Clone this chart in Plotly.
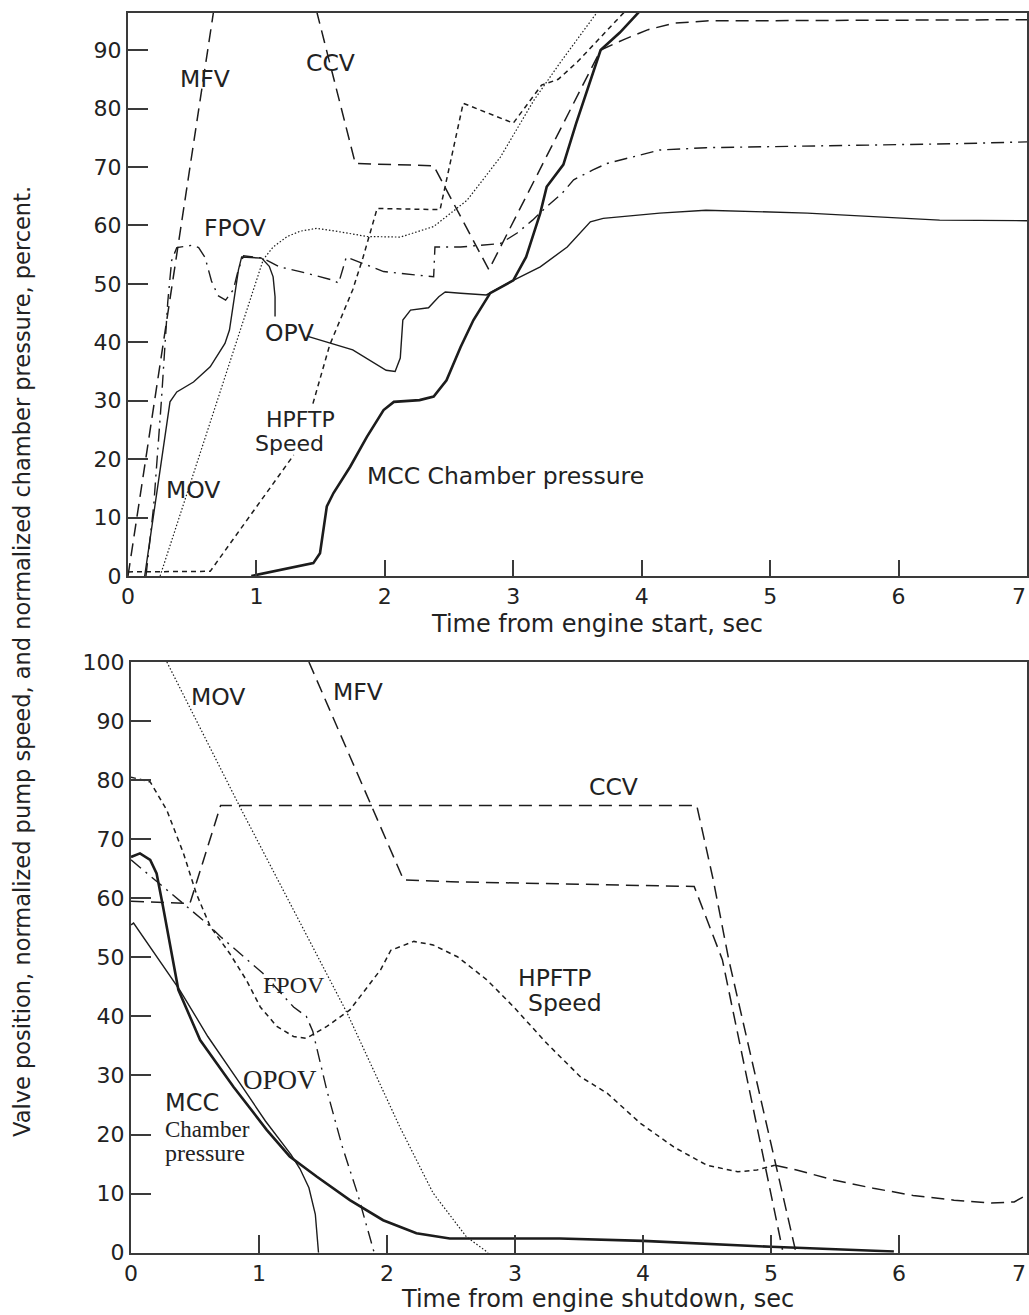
import plotly.graph_objects as go

# ---------------- Top panel: time from engine start ----------------
s_mfv_t = [0.0, 0.68]
s_mfv_v = [0.0, 98.6]

s_ccv_t = [1.43, 1.77, 2.38, 2.81, 3.68, 3.86, 4.05, 4.25, 4.5, 5.5, 7.0]
s_ccv_v = [100.0, 70.6, 70.2, 52.4, 90.0, 91.8, 93.5, 94.6, 95.0, 95.1, 95.2]

s_fpov_t = [0.14, 0.2, 0.26, 0.31, 0.34, 0.38, 0.5, 0.55, 0.6, 0.65, 0.7, 0.76,
            0.82, 0.86, 0.9, 1.05, 1.18, 1.34, 1.6, 1.64, 1.70, 1.99, 2.38, 2.39,
            2.59, 2.9, 3.03, 3.15, 3.26, 3.38, 3.47, 3.62, 3.73, 3.93, 4.14, 4.5,
            5.5, 6.5, 7.0]
s_fpov_v = [0.0, 12.0, 30.0, 47.0, 54.0, 56.2, 56.6, 56.2, 54.5, 50.5, 48.0, 47.2,
            49.0, 52.5, 54.8, 54.4, 52.9, 52.1, 50.6, 50.1, 54.6, 52.1, 51.2, 56.3,
            56.3, 56.9, 58.7, 60.9, 63.2, 65.5, 67.8, 69.5, 70.6, 71.7, 72.9, 73.3,
            73.6, 74.0, 74.3]

s_mov_t = [0.25, 1.054, 1.13, 1.24, 1.34, 1.47, 1.65, 1.86, 2.12, 2.38, 2.64,
           2.90, 3.16, 3.36, 3.65, 3.72]
s_mov_v = [0.0, 54.2, 56.3, 58.1, 59.0, 59.5, 58.9, 58.1, 58.0, 59.8, 64.3,
           71.7, 81.4, 87.7, 96.4, 99.0]

s_opov_t = [0.13, 0.327, 0.38, 0.51, 0.64, 0.755, 0.79, 0.83, 0.86, 0.885, 1.04,
            1.10, 1.13, 1.145, 1.145, None, 1.40, 1.75, 2.01, 2.08, 2.12, 2.14,
            2.2, 2.34, 2.42, 2.47, 2.59, 2.79, 3.0, 3.21, 3.42, 3.6, 3.7, 4.14,
            4.5, 5.29, 6.06, 6.32, 7.0]
s_opov_v = [0.0, 29.8, 31.5, 33.2, 35.8, 39.8, 42.1, 48.4, 52.4, 54.6, 54.4,
            53.0, 51.2, 47.8, 44.4, None, 41.0, 38.7, 35.2, 35.0, 37.3, 43.8,
            45.5, 45.9, 47.8, 48.6, 48.4, 48.1, 50.6, 52.9, 56.3, 60.6, 61.2, 62.1,
            62.6, 62.1, 61.2, 60.9, 60.8]

s_hpftp_t = [0.0, 0.64, 1.29, None, 1.44, 1.57, 1.75, 1.83, 1.94, 2.43, 2.61,
             3.0, 3.22, 3.35, 3.5, 3.86, 3.95]
s_hpftp_v = [0.7, 0.8, 20.7, None, 29.5, 39.5, 49.0, 54.5, 62.9, 62.7, 80.9,
             77.5, 84.0, 85.0, 88.0, 96.4, 98.5]

s_mcc_t = [0.96, 1.443, 1.495, 1.52, 1.548, 1.6, 1.73, 1.86, 1.99, 2.07, 2.27,
           2.38, 2.48, 2.59, 2.69, 2.82, 3.0, 3.1, 3.21, 3.26, 3.39, 3.49, 3.6,
           3.68, 3.83, 3.97, 4.02]
s_mcc_v = [0.0, 2.2, 3.9, 7.3, 11.9, 14.2, 18.7, 23.8, 28.4, 29.8, 30.1,
           30.7, 33.5, 39.2, 43.8, 48.4, 50.6, 54.6, 62.1, 66.6, 70.4, 77.5, 84.6,
           90.0, 93.0, 96.4, 97.5]

# ---------------- Bottom panel: time from engine shutdown ----------------
d_mov_t = [0.28, 0.85, 1.69, 2.10, 2.36, 2.62, 2.79]
d_mov_v = [100.0, 75.5, 40.5, 21.3, 10.1, 2.7, 0.0]

d_mfv_t = [1.39, 2.13, 2.5, 3.5, 4.40, 4.62, 5.09]
d_mfv_v = [100.0, 63.1, 62.8, 62.4, 62.0, 49.6, 0.5]

d_ccv_t = [0.0, 0.46, 0.70, 4.42, 4.55, 4.67, 5.19]
d_ccv_v = [59.5, 59.1, 75.7, 75.7, 63.0, 49.6, 0.5]

d_fpov_t = [0.0, 0.3, 0.59, 0.70, 1.03, 1.27, 1.37, 1.42, 1.47, 1.53, 1.65, 1.77, 1.9]
d_fpov_v = [66.5, 61.0, 55.8, 53.5, 47.3, 41.6, 40.0, 37.5, 33.0, 27.5, 18.0, 10.0, 0.0]

d_hpftp_t = [0.0, 0.15, 0.28, 0.41, 0.51, 0.62, 0.77, 0.9, 1.01, 1.14, 1.27, 1.37,
             1.53, 1.71, 1.95, 2.03, 2.21, 2.36, 2.55, 2.78, 2.99, 3.25, 3.51,
             3.72, 3.98, 4.24, 4.5, 4.74, 4.89, 5.03]
d_hpftp_v = [80.5, 79.7, 74.9, 67.6, 60.8, 55.2, 50.7, 46.2, 41.6, 38.3, 36.6, 36.3,
             38.3, 41.1, 47.9, 51.2, 52.7, 52.1, 50.1, 46.2, 41.6, 35.4, 29.8,
             27.0, 21.9, 17.9, 14.8, 13.7, 14.0, 14.8]

d_hpftp_ext_t = [5.03, 5.2, 5.49, 5.8, 6.11, 6.43, 6.72, 6.9, 7.0]
d_hpftp_ext_v = [14.8, 14.0, 12.3, 10.9, 9.7, 8.9, 8.4, 8.6, 9.8]

d_opov_t = [0.0, 0.02, 0.38, 0.6, 0.85, 1.05, 1.25, 1.32, 1.39, 1.44, 1.465]
d_opov_v = [55.5, 55.8, 44.5, 36.6, 28.7, 22.3, 16.6, 14.2, 11.0, 6.5, 0.0]

d_mcc_t = [0.0, 0.07, 0.15, 0.2, 0.25, 0.305, 0.37, 0.54, 0.8, 1.06, 1.24, 1.45,
           1.71, 1.97, 2.23, 2.49, 2.89, 3.35, 4.0, 5.0, 5.96]
d_mcc_v = [67.0, 67.6, 66.5, 64.2, 58.6, 52.4, 44.5, 36.0, 28.1, 20.8, 16.3, 12.9,
           8.9, 5.5, 3.3, 2.4, 2.4, 2.4, 2.0, 1.0, 0.2]

x_ticks = [0, 1, 2, 3, 4, 5, 6]
x_last_tick = [7]
top_y_ticks = [0, 10, 20, 30, 40, 50, 60, 70, 80, 90]
bot_y_ticks = [0, 10, 20, 30, 40, 50, 60, 70, 80, 90, 100]

INK = "#1c1c1c"
TXT = "#222222"
LONG = "13px,7px"
SHORT = "5px,4px"
DASHDOT = "13px,6px,2px,6px"
DOT = "1.5px,2px"

fig = go.Figure()


def add(t, v, xa, ya, dash="solid", width=1.4):
    fig.add_trace(go.Scatter(x=t, y=v, xaxis=xa, yaxis=ya, mode="lines",
                             line=dict(color=INK, width=width, dash=dash),
                             connectgaps=False, hoverinfo="skip", showlegend=False))


# top
add(s_mfv_t, s_mfv_v, "x", "y", LONG, 1.5)
add(s_ccv_t, s_ccv_v, "x", "y", LONG, 1.5)
add(s_fpov_t, s_fpov_v, "x", "y", DASHDOT, 1.4)
add(s_mov_t, s_mov_v, "x", "y", DOT, 1.2)
add(s_opov_t, s_opov_v, "x", "y", "solid", 1.4)
add(s_hpftp_t, s_hpftp_v, "x", "y", SHORT, 1.5)
add(s_mcc_t, s_mcc_v, "x", "y", "solid", 2.6)

# bottom
add(d_mov_t, d_mov_v, "x2", "y2", DOT, 1.2)
add(d_mfv_t, d_mfv_v, "x2", "y2", LONG, 1.5)
add(d_ccv_t, d_ccv_v, "x2", "y2", LONG, 1.5)
add(d_fpov_t, d_fpov_v, "x2", "y2", DASHDOT, 1.4)
add(d_hpftp_t, d_hpftp_v, "x2", "y2", SHORT, 1.5)
add(d_hpftp_ext_t, d_hpftp_ext_v, "x2", "y2", LONG, 1.5)
add(d_opov_t, d_opov_v, "x2", "y2", "solid", 1.4)
add(d_mcc_t, d_mcc_v, "x2", "y2", "solid", 2.6)

# invisible anchors so the edge-label axes get drawn
for xa, ya in (("x3", "y"), ("x4", "y2")):
    fig.add_trace(go.Scatter(x=x_last_tick, y=[0], xaxis=xa, yaxis=ya, mode="markers",
                             marker=dict(size=1, opacity=0), hoverinfo="skip",
                             showlegend=False))

W, H = 1029, 1315
SANS = "DejaVu Sans"
SERIF = "Liberation Serif"

axis_common = dict(showgrid=False, zeroline=False, showline=True, mirror=True,
                   linecolor="#3a3a3a", linewidth=2, ticks="inside",
                   tickcolor="#3a3a3a", tickwidth=1.6, automargin=False,
                   tickfont=dict(family=SANS, size=22, color=TXT))

# extra axis used only to place the last ("7") tick label inside the page edge
edge_axis = dict(showgrid=False, zeroline=False, showline=False, ticks="",
                 automargin=False, range=[0, 7], tickvals=x_last_tick,
                 ticklabelshift=-8, ticklabelstandoff=5, ticklabeloverflow="allow",
                 tickfont=dict(family=SANS, size=22, color=TXT))

fig.update_layout(
    template="none",
    width=W, height=H,
    margin=dict(l=0, r=0, t=0, b=0, pad=0, autoexpand=False),
    paper_bgcolor="white", plot_bgcolor="white",
    xaxis=dict(domain=[128 / W, 1027 / W], range=[0, 7], tickvals=x_ticks,
               ticklen=16, anchor="y", **axis_common),
    yaxis=dict(domain=[1 - 576 / H, 1 - 12.7 / H], range=[0, 96.4], tickvals=top_y_ticks,
               ticklen=20, anchor="x", **axis_common),
    xaxis2=dict(domain=[131 / W, 1027 / W], range=[0, 7], tickvals=x_ticks,
                ticklen=18, anchor="y2", **axis_common),
    yaxis2=dict(domain=[1 - 1252.7 / H, 1 - 662 / H], range=[0, 100], tickvals=bot_y_ticks,
                ticklen=20, anchor="x2", **axis_common),
    xaxis3=dict(domain=[128 / W, 1027 / W], anchor="y", overlaying="x", side="bottom",
                **edge_axis),
    xaxis4=dict(domain=[131 / W, 1027 / W], anchor="y2", overlaying="x2", side="bottom",
                **edge_axis),
)


def label(text, x, y, xa, ya, family=SANS, size=23.5, xanchor="center"):
    fig.add_annotation(text=text, x=x, y=y, xref=xa, yref=ya, showarrow=False,
                       xanchor=xanchor, yanchor="middle",
                       font=dict(family=family, size=size, color=TXT))


# top labels
label("MFV", 0.60, 85.0, "x", "y")
label("CCV", 1.58, 87.8, "x", "y")
label("FPOV", 0.833, 59.5, "x", "y")
label("OPV", 1.26, 41.6, "x", "y")
label("HPFTP", 1.34, 26.7, "x", "y", SANS, 22)
label("Speed", 1.26, 22.6, "x", "y", SANS, 22)
label("MOV", 0.506, 14.7, "x", "y")
label("MCC Chamber pressure", 2.94, 17.1, "x", "y")

# bottom labels
label("MOV", 0.68, 94.1, "x2", "y2")
label("MFV", 1.775, 94.9, "x2", "y2")
label("CCV", 3.77, 78.8, "x2", "y2")
label("FPOV", 1.27, 45.3, "x2", "y2", SERIF, 24)
label("HPFTP", 3.31, 46.5, "x2", "y2")
label("Speed", 3.39, 42.3, "x2", "y2")
label("OPOV", 1.165, 29.2, "x2", "y2", SERIF, 27)
label("MCC", 0.25, 25.3, "x2", "y2", SANS, 24, "left")
label("Chamber", 0.25, 20.8, "x2", "y2", SERIF, 23, "left")
label("pressure", 0.25, 16.9, "x2", "y2", SERIF, 24, "left")


# axis titles
def ptext(text, px, py, size, angle=0):
    fig.add_annotation(text=text, x=px / W, y=1 - py / H, xref="paper", yref="paper",
                       showarrow=False, xanchor="center", yanchor="middle",
                       textangle=angle, font=dict(family=SANS, size=size, color=TXT))


ptext("Time from engine start, sec", 597, 624, 24)
ptext("Time from engine shutdown, sec", 597, 1299, 24)
ptext("Valve position, normalized pump speed, and normalized chamber pressure, percent.",
      22, 662, 22.5, -90)

fig.write_html("out.html", config={"displayModeBar": False},
               post_script="document.body.style.margin='0px';document.body.style.overflow='hidden';")
